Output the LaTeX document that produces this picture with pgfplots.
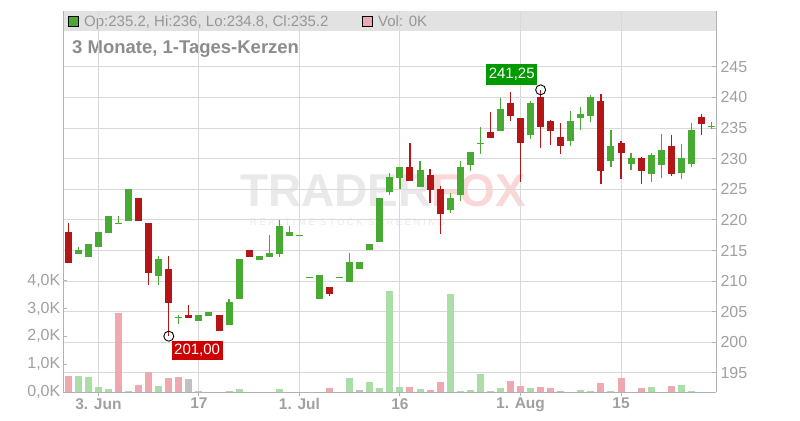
\documentclass[border=0pt]{standalone}
\usepackage{pgfplots}
\pgfplotsset{compat=1.18}
\usepackage{pgfplotstable}
\usepackage{fontspec}
\setmainfont{Liberation Sans}
\newfontfamily\wmfont[LetterSpace=27]{Liberation Sans}

\definecolor{cgreen}{RGB}{72,170,50}
\definecolor{cred}{RGB}{180,22,24}
\definecolor{vgreen}{RGB}{171,221,166}
\definecolor{vpink}{RGB}{238,168,176}
\definecolor{vgray}{RGB}{192,192,192}
\definecolor{gridc}{RGB}{217,217,217}
\definecolor{tickc}{RGB}{160,160,160}
\definecolor{axisc}{RGB}{178,178,178}
\definecolor{headc}{RGB}{226,226,226}
\definecolor{headtxt}{RGB}{150,150,150}
\definecolor{titlec}{RGB}{140,140,140}
\definecolor{lblgreen}{RGB}{0,153,0}
\definecolor{lblred}{RGB}{204,0,0}
\definecolor{wmgray}{RGB}{233,233,233}
\definecolor{wmpink}{RGB}{250,216,216}

% candles: index, open, high, low, close
\pgfplotstableread{
i o h l c
1 214.4 215.6 214.4 215.1
2 214.0 216.1 214.0 216.1
3 215.5 218.0 215.5 218.0
4 217.9 220.6 217.9 220.6
5 219.4 220.6 219.4 219.55
6 219.9 225.0 219.9 225.0
9 210.9 214.1 209.4 213.6
11 204.0 204.5 203.0 204.15
13 203.4 204.5 203.4 204.5
14 204.3 205.0 204.3 205.0
16 202.8 207.0 202.8 206.6
17 207.0 213.6 207.0 213.6
19 213.5 214.1 213.5 214.1
20 214.0 217.5 214.0 214.6
21 214.5 220.0 214.0 219.0
22 217.4 219.0 217.4 218.0
23 217.45 217.6 217.45 217.6
24 210.45 210.6 210.45 210.6
25 207.0 211.0 207.0 211.0
27 210.45 210.6 210.45 210.6
28 209.9 214.6 209.9 213.1
29 211.9 213.1 211.9 213.1
30 215.0 216.1 215.0 216.1
31 216.4 223.6 216.4 223.6
32 224.5 227.6 224.0 227.0
33 226.9 228.6 225.0 228.6
35 225.4 229.7 225.4 228.2
38 221.6 224.4 221.1 223.6
39 224.0 229.6 223.1 228.6
40 229.0 231.1 228.0 231.1
41 232.4 235.2 230.8 232.6
43 234.6 239.9 234.6 238.1
46 233.8 239.4 233.2 239.1
50 232.9 237.8 232.0 236.2
51 236.7 238.4 234.7 237.3
52 237.0 240.4 236.0 240.1
54 229.7 234.7 228.7 232.1
56 229.2 230.9 228.2 230.1
58 227.5 230.9 226.2 230.6
59 229.0 234.0 226.9 231.4
61 227.7 232.4 226.7 230.1
62 229.2 235.8 228.7 234.7
64 235.15 236.0 234.8 235.3
}\greenc

\pgfplotstableread{
i o h l c
0 218.0 219.5 213.0 213.0
7 223.6 223.6 219.9 219.9
8 219.5 219.5 209.4 211.4
10 212.0 214.1 201.0 206.5
12 204.5 206.1 203.9 203.9
15 204.5 204.5 201.9 201.9
18 215.1 215.1 214.0 214.0
26 209.0 209.0 207.5 207.9
34 228.6 232.6 226.4 226.4
36 227.3 228.3 222.7 224.9
37 225.0 225.5 217.7 221.0
42 234.4 237.7 233.4 233.4
44 239.1 240.9 236.2 237.0
45 236.6 236.6 226.2 232.5
47 240.1 241.25 231.7 235.1
48 236.2 236.3 232.3 234.6
49 233.5 235.8 230.8 232.0
53 239.4 240.6 225.8 228.0
55 232.6 232.9 226.7 231.0
57 230.1 230.3 225.8 228.0
60 232.1 233.9 227.2 227.5
63 236.8 237.3 233.8 235.6
}\redc

% volume in thousands
\pgfplotstableread{
i v
0 0.58
5 2.84
7 0.25
8 0.72
10 0.50
11 0.54
26 0.14
34 0.18
36 0.07
37 0.36
44 0.40
45 0.22
47 0.18
48 0.14
49 0.04
53 0.32
55 0.50
57 0.14
60 0.22
}\volpink

\pgfplotstableread{
i v
1 0.58
2 0.54
3 0.18
4 0.11
6 0.04
9 0.22
13 0.04
16 0.04
17 0.11
21 0.11
28 0.50
30 0.36
31 0.14
32 3.63
33 0.18
35 0.11
38 3.53
39 0.04
40 0.07
41 0.65
42 0.04
43 0.14
46 0.14
51 0.07
52 0.04
54 0.04
58 0.18
61 0.25
62 0.04
}\volgreen

\pgfplotstableread{
i v
12 0.47
29 0.07
}\volgray

\pgfplotsset{base/.style={scale only axis, width=653.3bp, height=381bp,
  xmin=-0.527, xmax=64.48, at={(0,0)}, anchor=south west},
  candle/.style={forget plot, draw=none, mark=none, error bars/.cd, y dir=plus, y explicit, error mark=none,
  error bar style={draw=#1, solid}}}

\begin{document}
\begin{tikzpicture}[x=1bp,y=1bp]
\useasboundingbox (-63,-28) rectangle (737,392);
% header bar
\fill[headc] (0,361) rectangle (653.3,380.5);
\draw[black, fill=cgreen, line width=0.8bp] (5.5,365.5) rectangle (15.8,375.3);
\node[anchor=base west, inner sep=0, text=headtxt, font=\fontsize{15bp}{18bp}\selectfont] at (21,365.3) {Op:235.2, Hi:236, Lo:234.8, Cl:235.2};
\draw[black, fill=vpink, line width=0.8bp] (299,365.5) rectangle (309.3,375.3);
\node[anchor=base west, inner sep=0, text=headtxt, font=\fontsize{15bp}{18bp}\selectfont] at (315,365.3) {Vol: 0K};
% title
\node[anchor=base west, inner sep=0, text=titlec, font=\fontsize{18.5bp}{21bp}\selectfont\bfseries] at (9,338.7) {3 Monate, 1-Tages-Kerzen};
% watermark
\node[anchor=base west, inner sep=0] at (177,186) {\fontsize{46bp}{50bp}\selectfont\bfseries\textcolor{wmgray}{TRADER}\textcolor{wmpink}{FOX}};
\node[anchor=base west, inner sep=0] at (187,167) {\fontsize{9.5bp}{11bp}\wmfont\color{wmgray}REALTIME STOCK SCREENING};

% price grid, right axis, date axis
\begin{axis}[base, ymin=191.88, ymax=254.13,
  axis x line=bottom, axis y line=right,
  axis line style={draw=axisc, line width=0.9bp, -},
  xtick={3,13,23,33,45,55}, xticklabels={3. Jun,17,1. Jul,16,1. Aug,15},
  ytick={195,200,205,210,215,220,225,230,235,240,245},
  yticklabels={195,200,205,210,215,220,225,230,235,240,245},
  grid=major, major grid style={draw=gridc, line width=0.9bp},
  tick style={draw=axisc, line width=0.9bp},
  xtick align=outside, ytick align=inside, major tick length=4bp,
  x tick label style={font=\fontsize{15.5bp}{18bp}\selectfont\bfseries, text=tickc, inner ysep=2bp},
  y tick label style={font=\fontsize{16bp}{18bp}\selectfont, text=tickc, inner xsep=4bp},
]
\end{axis}

% volume axis
\begin{axis}[base, ymin=0, ymax=13.705,
  axis x line=none, axis y line=left,
  axis line style={draw=axisc, line width=0.9bp, -},
  ytick={0,1,2,3,4}, yticklabels={{0,0K},{1,0K},{2,0K},{3,0K},{4,0K}},
  tick style={draw=axisc, line width=0.9bp}, ytick align=inside, major tick length=4bp,
  y tick label style={font=\fontsize{16bp}{18bp}\selectfont, text=tickc, inner xsep=2.5bp},
]
\addplot[ycomb, draw=vpink, line width=7bp, mark=none, forget plot] table[x=i,y=v] {\volpink};
\addplot[ycomb, draw=vgreen, line width=7bp, mark=none, forget plot] table[x=i,y=v] {\volgreen};
\addplot[ycomb, draw=vgray, line width=7bp, mark=none, forget plot] table[x=i,y=v] {\volgray};
\end{axis}

% candles
\begin{axis}[base, ymin=191.88, ymax=254.13, hide axis, clip=false]
% wicks
\addplot[candle=cgreen, /pgfplots/error bars/error bar style={line width=1.2bp}]
  table[x=i, y=l, y error expr=\thisrow{h}-\thisrow{l}] {\greenc};
\addplot[candle=cred, /pgfplots/error bars/error bar style={line width=1.2bp}]
  table[x=i, y=l, y error expr=\thisrow{h}-\thisrow{l}] {\redc};
% bodies
\addplot[candle=cgreen, /pgfplots/error bars/error bar style={line width=7bp}]
  table[x=i, y=o, y error expr=\thisrow{c}-\thisrow{o}] {\greenc};
\addplot[candle=cred, /pgfplots/error bars/error bar style={line width=7bp}]
  table[x=i, y=c, y error expr=\thisrow{o}-\thisrow{c}] {\redc};
% extreme markers
\addplot[forget plot, only marks, mark=o, mark size=5bp, mark options={draw=black, line width=0.9bp}]
  coordinates {(47,241.25) (10,201.0)};
\node[anchor=south east, fill=lblgreen, text=white, inner xsep=2.5bp, inner ysep=0pt, minimum height=21bp,
  font=\fontsize{15bp}{17bp}\selectfont, xshift=-3.3bp, yshift=4.7bp] at (axis cs:47,241.25) {241,25};
\node[anchor=north west, fill=lblred, text=white, inner xsep=2.5bp, inner ysep=0pt, minimum height=18.5bp,
  font=\fontsize{15bp}{17bp}\selectfont, xshift=2.7bp, yshift=-5bp] at (axis cs:10,201.0) {201,00};
\end{axis}
\end{tikzpicture}
\end{document}
